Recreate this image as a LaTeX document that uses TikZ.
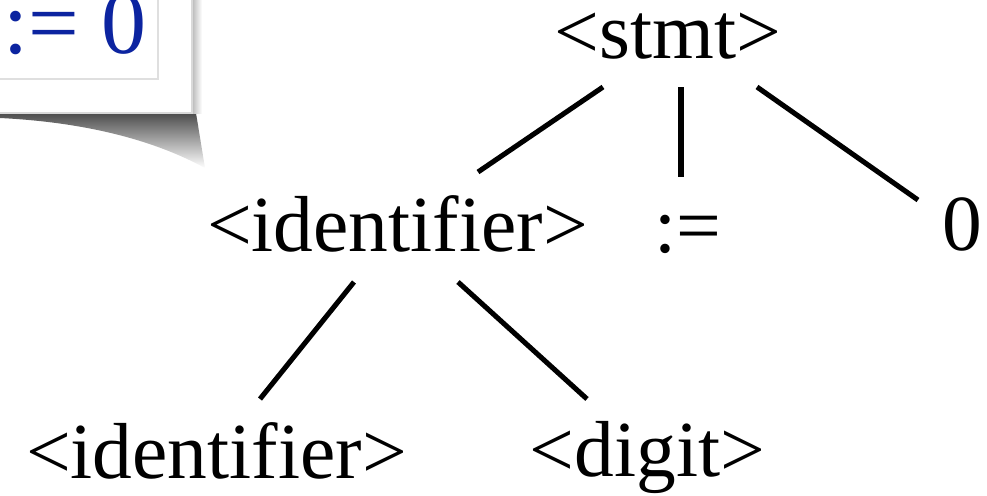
\documentclass[tikz,border=0pt]{standalone}
\usepackage{fontspec}
\setmainfont{Liberation Serif}
\usetikzlibrary{positioning,calc}
\definecolor{codeblue}{RGB}{12,36,160}
\tikzset{
    sym/.style={
        anchor=base,
        inner sep=0pt,
        font=\fontsize{56.5}{60}\selectfont,
    },
    branch/.style={
        draw=black,
        line width=3.6pt,
    },
    panel/.style={
        fill=white,
        draw=gray!30,
        line width=0.8pt,
    },
    codebox/.style={
        fill=white,
        draw=gray!25,
        line width=0.8pt,
    },
    code/.style={
        anchor=base east,
        inner sep=0pt,
        text=codeblue,
        font=\fontsize{64}{70}\selectfont,
    },
}

\begin{document}
\begin{tikzpicture}[x=0.025cm,y=-0.025cm]
    \useasboundingbox (0,0) rectangle (987,495);
    % snippet of the source line, top left
    \shade[top color=black!70,bottom color=white] (0,113) -- (196,113) -- (205,168) .. controls (150,138) and (80,122) .. (0,118) -- cycle;
    \shade[left color=gray!55,right color=white] (192,-10) rectangle (202,113);
    \draw[panel] (-10,-10) rectangle (192,113);
    \draw[codebox] (-10,-10) rectangle (158,79);
    \node[code] (src) at (147,53) {:= 0};
    % parse tree
    \node[sym] (stmt) at (668,58) {<stmt>};
    \node[sym] (id1) at (397.5,251) {<identifier>};
    \node[sym] (asg) at (688,252) {:=};
    \node[sym] (zero) at (962.5,250) {0};
    \node[sym] (id2) at (216.5,478) {<identifier>};
    \node[sym] (digit) at (647.5,476) {<digit>};
    \draw[branch] ([shift={(-65,29)}]stmt.base) -- ([shift={(80.5,-79)}]id1.base);
    \draw[branch] ([shift={(13,29)}]stmt.base) -- ([shift={(-7,-75)}]asg.base);
    \draw[branch] ([shift={(89,29)}]stmt.base) -- ([shift={(-44.5,-50)}]zero.base);
    \draw[branch] ([shift={(-43.5,31)}]id1.base) -- ([shift={(43.5,-79)}]id2.base);
    \draw[branch] ([shift={(60.5,31)}]id1.base) -- ([shift={(-60.5,-77)}]digit.base);
\end{tikzpicture}
\end{document}
